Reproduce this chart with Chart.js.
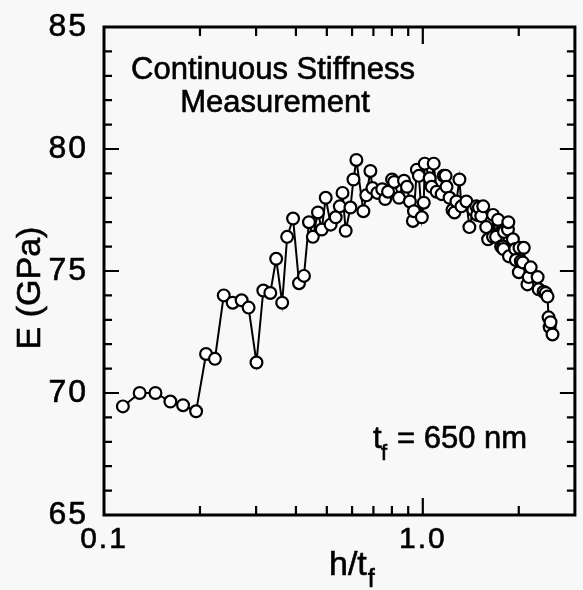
<!DOCTYPE html>
<html>
<head>
<meta charset="utf-8">
<script src="https://cdn.jsdelivr.net/npm/chart.js@4.4.1/dist/chart.umd.min.js"></script>
<style>
  html, body { margin: 0; padding: 0; background: #f8f8f8; }
  canvas { display: block; }
</style>
</head>
<body>
<canvas id="stiffnessChart" width="583" height="590"></canvas>
<script>
// h/t_f (depth over film thickness) and measured modulus E in GPa
const hRatio = [
  0.1146, 0.1294, 0.145, 0.1615, 0.177, 0.1945, 0.209, 0.2228, 0.2375, 0.2533,
  0.2702, 0.2841, 0.3008, 0.316, 0.3324, 0.3468, 0.3622, 0.3754, 0.3918, 0.409,
  0.4239, 0.4395, 0.452, 0.469, 0.482, 0.496, 0.514, 0.533, 0.549, 0.56,
  0.573, 0.593, 0.606, 0.619, 0.651, 0.665, 0.685, 0.695, 0.72, 0.746,
  0.762, 0.778, 0.801, 0.813, 0.842, 0.873, 0.892, 0.911, 0.931, 0.938,
  0.958, 0.972, 0.993, 1.007, 1.014, 1.051, 1.066, 1.082, 1.105, 1.146,
  1.162, 1.179, 1.187, 1.213, 1.239, 1.257, 1.275, 1.303, 1.322, 1.37,
  1.4, 1.44, 1.472, 1.48, 1.5, 1.525, 1.547, 1.581, 1.603, 1.66,
  1.661, 1.697, 1.722, 1.76, 1.785, 1.79, 1.798, 1.85, 1.855, 1.863,
  1.917, 1.95, 1.958, 2.001, 2.01, 2.03, 2.059, 2.074, 2.13, 2.149,
  2.18, 2.292, 2.309, 2.393, 2.43, 2.462, 2.48, 2.5, 2.516, 2.552
];
const modulus = [
  69.45, 70.0, 70.0, 69.65, 69.5, 69.25, 71.6, 71.4, 74.0, 73.7,
  73.8, 73.5, 71.25, 74.2, 74.1, 75.5, 73.7, 76.4, 77.15, 74.5,
  74.8, 77.0, 76.4, 77.4, 76.7, 78.0, 76.9, 77.2, 77.65, 78.2,
  76.65, 77.6, 78.75, 79.55, 77.45, 78.1, 79.1, 78.4, 78.2, 78.35,
  77.95, 78.25, 78.75, 78.65, 78.0, 78.7, 78.45, 77.85, 77.05, 77.45,
  79.15, 78.9, 77.2, 77.8, 79.4, 78.8, 78.45, 79.4, 78.25, 78.15,
  78.9, 78.9, 78.45, 78.0, 77.5, 77.4, 77.85, 78.75, 77.65, 77.85,
  76.8, 77.5, 77.65, 77.3, 77.6, 77.25, 77.65, 76.8, 76.3, 76.4,
  77.3, 76.4, 77.1, 76.0, 76.0, 75.9, 76.6, 76.7, 77.0, 75.6,
  76.3, 75.9, 75.45, 74.95, 75.95, 75.4, 75.35, 75.95, 74.45, 74.75,
  75.15, 74.75, 74.25, 74.15, 74.1, 73.95, 73.1, 72.7, 72.9, 72.4
];

const yTickLabels = ["65", "70", "75", "80", "85"];
const xTickLabels = ["0.1", "1.0"];
const xMinorTicks = [0.2, 0.3, 0.4, 0.5, 0.6, 0.7, 0.8, 0.9, 2];
const noteLines = ["Continuous Stiffness", "Measurement"];

const FONT = '"Liberation Sans", Arial, sans-serif';

// filled text with a thin outline so it reads as heavy as the scan
function inkText(ctx, text, x, y) {
  ctx.fillText(text, x, y);
  ctx.strokeText(text, x, y);
}

// frame, inward ticks and all the text are drawn here from the chart's scales
const framePlugin = {
  id: "frame",
  beforeDraw(chart) {
    const ctx = chart.ctx;
    ctx.save();
    ctx.fillStyle = "#f8f8f8";
    ctx.fillRect(0, 0, chart.width, chart.height);
    ctx.restore();
  },
  afterDraw(chart) {
    const { ctx, chartArea: a, scales } = chart;
    const x = scales.x;
    const y = scales.y;
    ctx.save();
    ctx.strokeStyle = "#000";
    ctx.fillStyle = "#000";

    ctx.lineWidth = 2.2;
    ctx.beginPath();
    for (let v = 65; v <= 85; v++) {
      const py = y.getPixelForValue(v);
      const len = v % 5 === 0 ? 15 : 8;
      ctx.moveTo(a.left, py);
      ctx.lineTo(a.left + len, py);
      ctx.moveTo(a.right, py);
      ctx.lineTo(a.right - len, py);
    }
    xMinorTicks.concat([1]).forEach((v) => {
      const px = x.getPixelForValue(v);
      const len = v === 1 ? 17 : 9;
      ctx.moveTo(px, a.bottom);
      ctx.lineTo(px, a.bottom - len);
      ctx.moveTo(px, a.top);
      ctx.lineTo(px, a.top + len);
    });
    ctx.stroke();

    ctx.lineWidth = 3;
    ctx.strokeRect(a.left, a.top, a.right - a.left, a.bottom - a.top);

    ctx.lineWidth = 0.6;

    // tick labels
    ctx.font = "32px " + FONT;
    ctx.letterSpacing = "2px";
    ctx.textAlign = "right";
    ctx.textBaseline = "middle";
    yTickLabels.forEach((t) => {
      inkText(ctx, t, a.left - 16, y.getPixelForValue(Number(t)));
    });
    ctx.font = "30px " + FONT;
    ctx.textAlign = "center";
    ctx.textBaseline = "alphabetic";
    xTickLabels.forEach((t) => {
      inkText(ctx, t, x.getPixelForValue(Number(t)), a.bottom + 33);
    });
    ctx.letterSpacing = "0px";

    // axis titles
    ctx.font = "34px " + FONT;
    ctx.textAlign = "left";
    const tx = 329;
    const ty = a.bottom + 60;
    inkText(ctx, "h/t", tx, ty);
    const w = ctx.measureText("h/t").width;
    ctx.font = "25px " + FONT;
    inkText(ctx, "f", tx + w + 1, ty + 12);

    ctx.save();
    ctx.translate(31, 288);
    ctx.rotate(-Math.PI / 2);
    ctx.font = "34px " + FONT;
    ctx.textAlign = "center";
    ctx.textBaseline = "middle";
    inkText(ctx, "E (GPa)", 0, 0);
    ctx.restore();

    // notes
    ctx.font = "31px " + FONT;
    ctx.textAlign = "center";
    inkText(ctx, noteLines[0], 273, 79);
    inkText(ctx, noteLines[1], 275, 112);

    ctx.textAlign = "left";
    ctx.font = "31px " + FONT;
    inkText(ctx, "t", 373, 448);
    ctx.font = "22px " + FONT;
    inkText(ctx, "f", 381, 460);
    ctx.font = "31px " + FONT;
    inkText(ctx, "= 650 nm", 397, 448);

    ctx.restore();
  },
};

document.addEventListener("DOMContentLoaded", () => {
  const points = hRatio.map((h, i) => ({ x: h, y: modulus[i] }));
  const ctx = document.getElementById("stiffnessChart").getContext("2d");

  new Chart(ctx, {
    type: "line",
    data: {
      datasets: [
        {
          data: points,
          borderColor: "#000",
          borderWidth: 2,
          pointRadius: 5.9,
          pointBackgroundColor: "#fff",
          pointBorderColor: "#000",
          pointBorderWidth: 2.2,
          tension: 0,
          clip: false,
        },
      ],
    },
    options: {
      responsive: false,
      animation: false,
      events: [],
      layout: {
        padding: { left: 104, right: 3, top: 27, bottom: 75 },
      },
      scales: {
        x: { type: "logarithmic", min: 0.1, max: 3, display: false },
        y: { type: "linear", min: 65, max: 85, display: false },
      },
      plugins: {
        legend: { display: false },
        tooltip: { enabled: false },
      },
    },
    plugins: [framePlugin],
  });
});
</script>
</body>
</html>
